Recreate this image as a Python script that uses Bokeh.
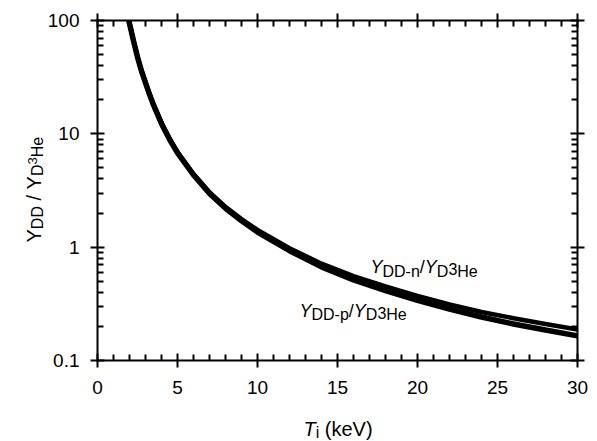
import math
from bokeh.plotting import figure
from bokeh.models import (Range1d, LinearAxis, LogAxis, FixedTicker, Label,
                          CustomLabelingPolicy)
from bokeh.embed import file_html
from bokeh.resources import INLINE

# ---- data ----
T_keV_n = [1.96, 2.0, 2.25, 2.5, 2.75, 3.0, 3.25, 3.5, 4.0, 4.5, 5.0, 6.0, 7.0, 8.0, 9.0,
           10.0, 12.0, 14.0, 16.0, 18.0, 20.0, 22.0, 24.0, 26.0, 28.0, 30.0]
ratio_ddn = [100, 95, 66.7, 48, 36.2, 28.5, 22.6, 18.2, 12.5, 9.1, 6.9, 4.42, 3.05, 2.27, 1.77,
             1.42, 0.98, 0.715, 0.555, 0.45, 0.372, 0.312, 0.268, 0.236, 0.21, 0.1875]
T_keV_p = [1.955, 2.0, 2.25, 2.5, 2.75, 3.0, 3.25, 3.5, 4.0, 4.5, 5.0, 6.0, 7.0, 8.0, 9.0,
           10.0, 12.0, 14.0, 16.0, 18.0, 20.0, 22.0, 24.0, 26.0, 28.0, 30.0]
ratio_ddp = [100, 94, 66.0, 47.5, 35.8, 28.2, 22.3, 18.0, 12.3, 8.95, 6.8, 4.34, 2.98, 2.2, 1.71,
             1.36, 0.93, 0.67, 0.515, 0.414, 0.34, 0.284, 0.242, 0.21, 0.186, 0.165]

x_major = [0, 5, 10, 15, 20, 25, 30]
x_minor = [1, 2, 3, 4, 6, 7, 8, 9, 11, 12, 13, 14, 16, 17, 18, 19, 21, 22, 23, 24, 26, 27, 28, 29]
y_major = [0.1, 1, 10, 100]
y_minor = [0.2, 0.3, 0.4, 0.5, 0.6, 0.7, 0.8, 0.9, 2, 3, 4, 5, 6, 7, 8, 9,
           20, 30, 40, 50, 60, 70, 80, 90]
y_tick_labels = {0.1: "0.1", 1: "1", 10: "10", 100: "100"}
x_lim = (0, 30)
y_lim = (0.1, 100)

FONT = "Liberation Sans"
W_PX, H_PX = 597, 441
# plot box in pixels (left, right, top, bottom)
BL, BR, BT, BB = 97, 577, 20, 360

# the frame covers the whole canvas; axes are pinned to the box edges
xppu = (BR - BL) / (x_lim[1] - x_lim[0])
x0 = x_lim[0] - BL / xppu
x1 = x_lim[1] + (W_PX - BR) / xppu
dec = (BB - BT) / (math.log10(y_lim[1]) - math.log10(y_lim[0]))
y1 = 10 ** (math.log10(y_lim[1]) + BT / dec)
y0 = 10 ** (math.log10(y_lim[0]) - (H_PX - BB) / dec)

p = figure(width=W_PX, height=H_PX, output_backend="svg", toolbar_location=None,
           y_axis_type="log", x_range=Range1d(x0, x1), y_range=Range1d(y0, y1),
           min_border=0, min_border_left=0, min_border_right=0,
           min_border_top=0, min_border_bottom=0)
p.outline_line_color = None
p.xgrid.visible = False
p.ygrid.visible = False
p.background_fill_color = "white"
p.border_fill_color = "white"

p.line(T_keV_p, ratio_ddp, line_color="black", line_width=5.5)
p.line(T_keV_n, ratio_ddn, line_color="black", line_width=4.5)

no_labels = CustomLabelingPolicy(code="""
    for (const i of indices) indices.unset(i)
    return indices
""")

def style_axis(ax, labels=True):
    ax.axis_line_width = 2
    ax.axis_line_color = "black"
    ax.axis_line_cap = "square"
    ax.major_tick_line_width = 2
    ax.minor_tick_line_width = 2
    ax.major_tick_line_color = "black"
    ax.minor_tick_line_color = "black"
    ax.major_tick_in = 7
    ax.major_tick_out = 7
    ax.minor_tick_in = 6
    ax.minor_tick_out = 0
    ax.major_label_text_font = FONT
    ax.major_label_text_font_size = "19px"
    ax.major_label_text_color = "black"
    if not labels:
        ax.major_label_policy = no_labels

xt = FixedTicker(ticks=x_major, minor_ticks=x_minor)
yt = FixedTicker(ticks=y_major, minor_ticks=y_minor)

bx = p.xaxis[0]
bx.ticker = xt
bx.fixed_location = y_lim[0]
bx.bounds = x_lim
style_axis(bx)
bx.major_label_standoff = 13

ly = p.yaxis[0]
ly.ticker = yt
ly.fixed_location = x_lim[0]
ly.bounds = y_lim
style_axis(ly)
ly.major_label_overrides = y_tick_labels
ly.major_label_standoff = 11

tx = LinearAxis(ticker=xt, fixed_location=y_lim[1], bounds=x_lim)
style_axis(tx, labels=False)
p.add_layout(tx, "above")

ry = LogAxis(ticker=yt, fixed_location=x_lim[1], bounds=y_lim)
style_axis(ry, labels=False)
p.add_layout(ry, "right")

# ---- rich text helper (Arial / Liberation Sans advance widths) ----
W = {'Y': 667, 'D': 722, '-': 333, 'n': 556, 'p': 556, '/': 278, '3': 556, 'H': 722,
     'e': 556, 'T': 611, 'i': 222, ' ': 278, '(': 333, 'k': 500, 'V': 667, ')': 333}

def rich(px, py, pieces, angle=0.0):
    """px, py: pixel position of the baseline start, from the top-left corner."""
    sx0, sy0 = px, H_PX - py
    pos = 0.0
    for txt, size, italic, shift in pieces:
        lead = len(txt) - len(txt.lstrip(' '))
        pos += lead * W[' '] * size / 1000.0
        core = txt.strip()
        if angle == 0:
            x, y = sx0 + pos, sy0 + shift
        else:
            x, y = sx0 - shift, sy0 + pos
        p.add_layout(Label(x=x, y=y, x_units="screen", y_units="screen", text=core,
                           text_font=FONT, text_font_size=f"{size}px",
                           text_font_style="italic" if italic else "normal",
                           text_align="left", text_baseline="alphabetic",
                           angle=angle, text_color="black"))
        pos += sum(W[c] for c in core) * size / 1000.0
        trail = len(txt) - len(txt.rstrip(' '))
        pos += trail * W[' '] * size / 1000.0

# y axis title (reads bottom to top)
rich(33, 242, [("Y", 20, False, 0), ("DD", 16, False, -4), (" / ", 20, False, 0),
               ("Y", 20, False, 0), ("D", 16, False, -4), ("3", 13, False, 1),
               ("He", 16, False, -4)], angle=math.pi / 2)
# x axis title
rich(303, 428, [("T", 20, True, 0), ("i", 16, False, -4), (" (keV)", 20, False, 0)])

# curve labels
rich(370, 266.5, [("Y", 18, True, 0), ("DD-n", 16, False, -4), ("/", 18, False, 0),
                  ("Y", 18, True, 0), ("D", 16, False, -4), ("3", 16, False, -2),
                  ("He", 16, False, -4)])
rich(299, 310, [("Y", 18, True, 0), ("DD-p", 16, False, -4), ("/", 18, False, 0),
                ("Y", 18, True, 0), ("D", 16, False, -4), ("3", 16, False, -2),
                ("He", 16, False, -4)])

open("out.html", "w").write(file_html(p, INLINE))
